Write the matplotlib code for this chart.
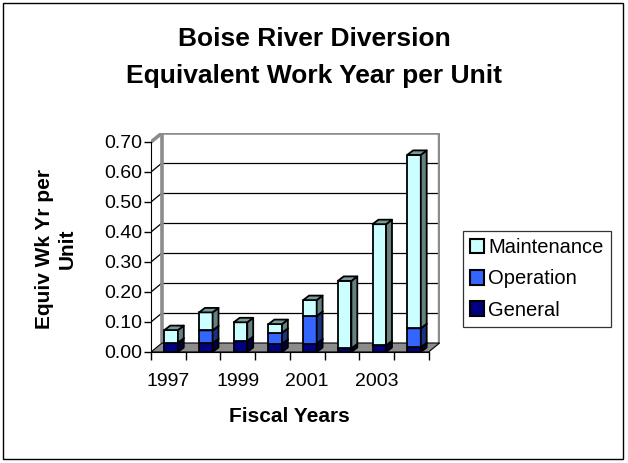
import numpy as np
import matplotlib
matplotlib.use("Agg")
import matplotlib.pyplot as plt
from matplotlib.patches import Polygon, Rectangle, Patch

plt.rcParams['font.family'] = ['Liberation Sans', 'DejaVu Sans']

# values
years = ['1997', '1998', '1999', '2000', '2001', '2002', '2003', '2004']
general = [0.031, 0.029, 0.037, 0.027, 0.028, 0.012, 0.022, 0.016]
operation = [0.0, 0.043, 0.0, 0.037, 0.092, 0.0, 0.0, 0.063]
maintenance = [0.042, 0.060, 0.062, 0.029, 0.053, 0.225, 0.404, 0.578]
series_names = ['General', 'Operation', 'Maintenance']
series_colors = ['#000080', '#3366FF', '#CCFFFF']

Y_TICKS = np.arange(0, 0.71, 0.1)
Y_MAX = 0.70

# fake 3d geometry (category units / value units)
WALL_DX, WALL_DY = 0.317, 0.03
BAR_W, BAR_SHIFT = 0.39, 0.08
BAR_DX, BAR_DY = 0.17, 0.015


def shade(color, f):
    rgb = np.array(matplotlib.colors.to_rgb(color))
    return tuple(rgb * f)


def draw_box(ax, x0, x1, y0, y1, color, z):
    """Front face, right side and top of one bar segment."""
    kw = dict(edgecolor='black', linewidth=1.3, joinstyle='round', zorder=z)
    ax.add_patch(Polygon([(x0, y0), (x1, y0), (x1, y1), (x0, y1)], facecolor=color, **kw))
    ax.add_patch(Polygon([(x1, y0), (x1 + BAR_DX, y0 + BAR_DY), (x1 + BAR_DX, y1 + BAR_DY), (x1, y1)],
                         facecolor=shade(color, 0.5), **kw))
    ax.add_patch(Polygon([(x0, y1), (x1, y1), (x1 + BAR_DX, y1 + BAR_DY), (x0 + BAR_DX, y1 + BAR_DY)],
                         facecolor=shade(color, 0.6), **kw))


def main():
    fig = plt.figure(figsize=(6.28, 4.63), dpi=100)
    ax = fig.add_axes([151 / 628, 1 - 352 / 463, 288.6 / 628, 219 / 463])
    n = len(years)
    left, right = -0.5, n - 0.5

    # back wall + gridlines
    ax.add_patch(Rectangle((left + WALL_DX, WALL_DY), n, Y_MAX, facecolor='white',
                           edgecolor='none', zorder=0))
    for v in Y_TICKS[1:-1]:
        ax.plot([left + WALL_DX, right + WALL_DX], [v + WALL_DY, v + WALL_DY],
                color='black', linewidth=0.9, zorder=1)
        ax.plot([left, left + WALL_DX], [v, v + WALL_DY], color='black', linewidth=0.9, zorder=1)
    wall_edge = dict(color='#8c8c8c', linewidth=2.6, zorder=1.5, solid_capstyle='butt')
    ax.plot([left, left + WALL_DX, right + WALL_DX, right + WALL_DX],
            [Y_MAX, Y_MAX + WALL_DY, Y_MAX + WALL_DY, WALL_DY], **wall_edge)
    ax.plot([left + WALL_DX, left + WALL_DX], [WALL_DY, Y_MAX + WALL_DY], **wall_edge)

    # floor
    ax.add_patch(Polygon([(left, 0), (right, 0), (right + WALL_DX, WALL_DY), (left + WALL_DX, WALL_DY)],
                         facecolor='#8c8c8c', edgecolor='black', linewidth=0.8, zorder=2))

    # stacked bars
    stacks = [general, operation, maintenance]
    for i in range(n):
        x0 = i - BAR_W / 2 + BAR_SHIFT
        x1 = x0 + BAR_W
        bottom = 0.0
        for vals, color in zip(stacks, series_colors):
            if vals[i] > 0:
                draw_box(ax, x0, x1, bottom, bottom + vals[i], color, 3 + i)
            bottom += vals[i]

    ax.set_xlim(left, right + WALL_DX)
    ax.set_ylim(0, Y_MAX + WALL_DY)
    for s in ['top', 'right']:
        ax.spines[s].set_visible(False)
    ax.spines['left'].set_bounds(0, Y_MAX)
    ax.spines['bottom'].set_bounds(left, right)
    ax.spines['left'].set_zorder(20)
    ax.spines['bottom'].set_zorder(20)

    ax.set_yticks(Y_TICKS)
    ax.set_yticklabels([f'{v:.2f}' for v in Y_TICKS])
    ax.tick_params(axis='y', direction='out', length=5, width=1, pad=1, labelsize=14)

    ax.set_xticks(np.arange(left, right + 0.01, 1.0))
    ax.set_xticklabels([''] * (n + 1))
    ax.set_xticks(range(0, n, 2), minor=True)
    ax.set_xticklabels(years[::2], minor=True)
    ax.tick_params(axis='x', which='major', direction='out', length=6, width=1)
    ax.tick_params(axis='x', which='minor', length=0, pad=15, labelsize=14)
    ax.patch.set_visible(False)

    fig.text(314 / 628, 1 - 39 / 463, 'Boise River Diversion', ha='center', va='center',
             fontsize=19, fontweight='bold')
    fig.text(314 / 628, 1 - 76 / 463, 'Equivalent Work Year per Unit', ha='center', va='center',
             fontsize=19, fontweight='bold')
    fig.text(56 / 628, 1 - 249 / 463, 'Equiv Wk Yr per\nUnit', ha='center', va='center',
             rotation=90, multialignment='center', fontsize=15, fontweight='bold', linespacing=1.25)
    fig.text(289 / 628, 1 - 416 / 463, 'Fiscal Years', ha='center', va='center',
             fontsize=15, fontweight='bold')

    handles = [Patch(facecolor=c, edgecolor='black', linewidth=1.5, label=s)
               for s, c in zip(series_names, series_colors)][::-1]
    leg = fig.legend(handles=handles, loc='center', bbox_to_anchor=(537 / 628, 1 - 279 / 463),
                     fontsize=14.5, frameon=True, fancybox=False, handlelength=0.7, handleheight=0.7,
                     handletextpad=0.2, labelspacing=0.6, borderpad=0.35, borderaxespad=0)
    leg.get_frame().set_edgecolor('black')
    leg.get_frame().set_linewidth(0.9)

    fig.patches.append(Rectangle((3 / 628, 4 / 463), 620 / 628, 456 / 463, transform=fig.transFigure,
                                 fill=False, edgecolor='black', linewidth=1.0))

    fig.savefig('out.png', dpi=100)


if __name__ == "__main__":
    main()
